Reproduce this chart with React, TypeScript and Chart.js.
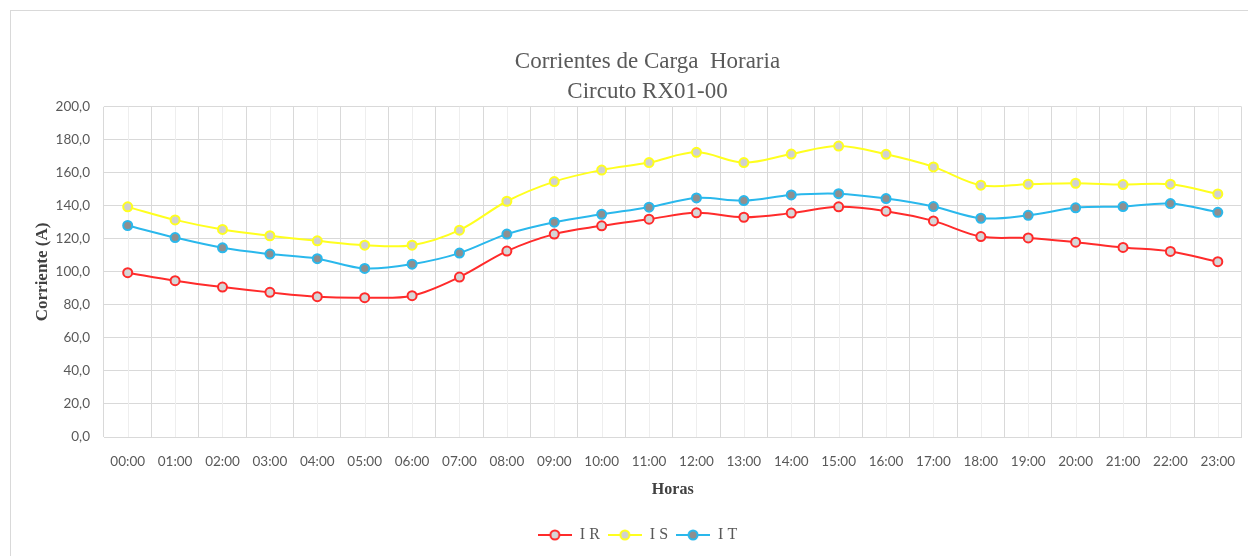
import React, { useEffect, useRef } from "react";
import { Chart, registerables } from "chart.js";

Chart.register(...registerables);

const categories = [
  "00:00", "01:00", "02:00", "03:00", "04:00", "05:00", "06:00", "07:00",
  "08:00", "09:00", "10:00", "11:00", "12:00", "13:00", "14:00", "15:00",
  "16:00", "17:00", "18:00", "19:00", "20:00", "21:00", "22:00", "23:00",
];

const seriesIR = [
  99.5, 94.7, 90.8, 87.6, 85.0, 84.4, 85.6, 96.9, 112.6, 122.9, 127.9, 131.9,
  135.8, 133.1, 135.6, 139.4, 136.8, 130.9, 121.4, 120.6, 118.0, 114.8, 112.4, 106.2,
];

const seriesIS = [
  139.4, 131.5, 125.7, 121.9, 118.8, 116.2, 116.2, 125.3, 142.8, 154.7, 161.7, 166.2,
  172.4, 166.2, 171.4, 176.2, 171.2, 163.6, 152.5, 153.1, 153.7, 152.9, 153.1, 147.2,
];

const seriesIT = [
  128.1, 120.8, 114.6, 110.8, 108.0, 102.1, 104.7, 111.4, 122.9, 130.1, 134.9, 139.2,
  144.8, 143.2, 146.6, 147.4, 144.4, 139.6, 132.5, 134.3, 138.8, 139.6, 141.4, 136.1,
];

const seriesNames = ["I R", "I S", "I T"];
const titleLines = ["Corrientes de Carga  Horaria", "Circuto RX01-00"];
const yAxisTitle = "Corriente (A)";
const xAxisTitle = "Horas";

const lineColors = ["#ff2b2b", "#ffff1f", "#2ab8ec"];
const pointFills = ["#d6d6d6", "#d0d0d0", "#8f8f8f"];

function makeLegendMarker(color: string, fill: string): HTMLCanvasElement {
  const c = document.createElement("canvas");
  c.width = 34;
  c.height = 14;
  const ctx = c.getContext("2d")!;
  ctx.strokeStyle = color;
  ctx.lineWidth = 2;
  ctx.beginPath();
  ctx.moveTo(0, 7);
  ctx.lineTo(34, 7);
  ctx.stroke();
  ctx.beginPath();
  ctx.arc(17, 7, 4.5, 0, Math.PI * 2);
  ctx.fillStyle = fill;
  ctx.fill();
  ctx.stroke();
  return c;
}

const centerLinesPlugin = {
  id: "centerLines",
  beforeDatasetsDraw(chart: any) {
    const { ctx, chartArea, scales } = chart;
    const xs = scales.x;
    ctx.save();
    ctx.strokeStyle = "#eeeeee";
    ctx.lineWidth = 1;
    for (let i = 0; i < categories.length; i++) {
      const x = Math.round(xs.getPixelForValue(i)) + 0.5;
      ctx.beginPath();
      ctx.moveTo(x, chartArea.top);
      ctx.lineTo(x, chartArea.bottom);
      ctx.stroke();
    }
    ctx.restore();
  },
};

const titleShiftPlugin = {
  id: "titleShift",
  afterLayout(chart: any) {
    const t = chart.titleBlock;
    if (t) {
      t.left += 20;
    }
  },
};

export default function App() {
  const canvasRef = useRef<HTMLCanvasElement | null>(null);

  useEffect(() => {
    if (!canvasRef.current) return;
    const series = [seriesIR, seriesIS, seriesIT];
    const markers = series.map((_, i) => makeLegendMarker(lineColors[i], pointFills[i]));
    const chart = new Chart(canvasRef.current, {
      type: "line",
      data: {
        labels: categories,
        datasets: series.map((d, i) => ({
          label: seriesNames[i],
          data: d,
          borderColor: lineColors[i],
          backgroundColor: pointFills[i],
          borderWidth: 2,
          pointRadius: 4.5,
          pointBorderWidth: 2,
          pointBorderColor: lineColors[i],
          pointBackgroundColor: pointFills[i],
          pointHoverRadius: 4.5,
          tension: 0.35,
          fill: false,
        })),
      },
      options: {
        responsive: false,
        animation: false,
        devicePixelRatio: 1,
        layout: { padding: { left: 32, right: 5, top: 0, bottom: 3 } },
        plugins: {
          tooltip: { enabled: false },
          title: {
            display: true,
            text: titleLines,
            color: "#595959",
            font: { family: "'Liberation Serif', 'DejaVu Serif', serif", size: 23, weight: "normal", lineHeight: 1.3 },
            padding: { top: 47, bottom: 0 },
          },
          legend: {
            display: true,
            position: "bottom",
            labels: {
              usePointStyle: true,
              pointStyleWidth: 34,
              boxHeight: 14,
              padding: 8,
              color: "#595959",
              font: { family: "'Liberation Serif', 'DejaVu Serif', serif", size: 16 },
              generateLabels: () =>
                seriesNames.map((name, i) => ({
                  text: name,
                  pointStyle: markers[i] as any,
                  fillStyle: pointFills[i],
                  strokeStyle: lineColors[i],
                  lineWidth: 0,
                  fontColor: "#595959",
                  hidden: false,
                  datasetIndex: i,
                })),
            },
          },
        },
        scales: {
          x: {
            type: "category",
            offset: true,
            grid: { display: true, offset: true, color: "#d9d9d9", drawTicks: false },
            border: { display: true, color: "#d9d9d9" },
            ticks: {
              color: "#595959",
              font: { family: "Lato, 'Noto Sans', sans-serif", size: 13.5 },
              padding: 17,
              maxRotation: 0,
              autoSkip: false,
            },
            title: {
              display: true,
              text: xAxisTitle,
              color: "#404040",
              font: { family: "'Liberation Serif', serif", size: 16, weight: "bold" },
              padding: { top: 0, bottom: 20 },
            },
            afterFit: (scale: any) => {
              scale.height = 82;
              scale.paddingLeft = 0;
              scale.paddingRight = 0;
            },
          },
          y: {
            min: 0,
            max: 200,
            grid: { color: "#d9d9d9", drawTicks: false },
            border: { display: false },
            ticks: {
              stepSize: 20,
              color: "#595959",
              font: { family: "Lato, 'Noto Sans', sans-serif", size: 13.5 },
              padding: 14,
              callback: (v: any) => Number(v).toFixed(1).replace(".", ","),
            },
            title: {
              display: true,
              text: yAxisTitle,
              color: "#404040",
              font: { family: "'Liberation Serif', serif", size: 17, weight: "bold" },
              padding: { top: 0, bottom: 0 },
            },
            afterFit: (scale: any) => {
              scale.width = 72;
            },
          },
        },
      },
      plugins: [
        centerLinesPlugin,
        titleShiftPlugin,
        {
          id: "rightEdge",
          afterDraw(chart: any) {
            const { ctx, chartArea } = chart;
            ctx.save();
            ctx.strokeStyle = "#d9d9d9";
            ctx.lineWidth = 1;
            ctx.beginPath();
            const x = Math.round(chartArea.right) - 0.5;
            ctx.moveTo(x, chartArea.top);
            ctx.lineTo(x, chartArea.bottom);
            ctx.stroke();
            ctx.restore();
          },
        } as any,
      ],
    } as any);
    return () => chart.destroy();
  }, []);

  return (
    <div style={{ position: "fixed", left: 0, top: 0, width: 1248, height: 556, overflow: "hidden", background: "#fff" }}>
      <div
        style={{
          position: "absolute",
          left: 10,
          top: 10,
          width: 1300,
          height: 600,
          borderTop: "1px solid #d9d9d9",
          borderLeft: "1px solid #d9d9d9",
        }}
      />
      <canvas
        ref={canvasRef}
        width={1248}
        height={556}
        style={{ position: "absolute", left: 0, top: 0, width: 1248, height: 556 }}
      />
    </div>
  );
}
